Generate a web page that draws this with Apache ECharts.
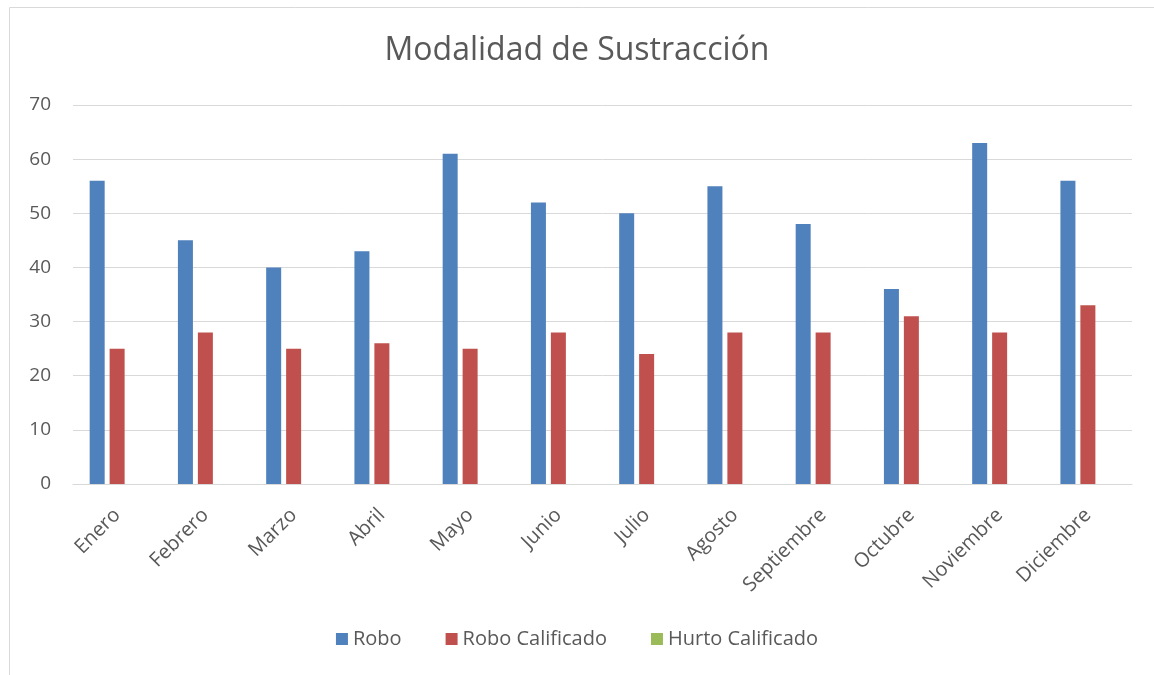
<!DOCTYPE html>
<html>
<head>
<meta charset="utf-8">
<script src="https://cdn.jsdelivr.net/npm/echarts@6/dist/echarts.min.js"></script>
<style>
  html, body { margin: 0; padding: 0; background: #fff; }
  #chart { width: 1154px; height: 675px; }
</style>
</head>
<body>
<div id="chart"></div>
<script>
const meses = ['Enero', 'Febrero', 'Marzo', 'Abril', 'Mayo', 'Junio', 'Julio', 'Agosto', 'Septiembre', 'Octubre', 'Noviembre', 'Diciembre']
const robo = [56, 45, 40, 43, 61, 52, 50, 55, 48, 36, 63, 56]
const roboCalificado = [25, 28, 25, 26, 25, 28, 24, 28, 28, 31, 28, 33]
const hurtoCalificado = [0, 0, 0, 0, 0, 0, 0, 0, 0, 0, 0, 0]

const fuente = 'Open Sans'
const gris = '#595959'

const myChart = echarts.init(document.getElementById('chart'))

const serie = (name, data, color) => ({
  name,
  type: 'bar',
  data,
  barWidth: 15,
  barGap: '33%',
  itemStyle: { color }
})

myChart.setOption({
  animation: false,
  title: {
    text: 'Modalidad de Sustracción',
    left: 'center',
    top: 30,
    textStyle: { color: gris, fontFamily: fuente, fontSize: 32, fontWeight: 'normal' }
  },
  graphic: [{
    type: 'rect',
    shape: { x: 9.5, y: 7.5, width: 1160, height: 700 },
    style: { fill: 'none', stroke: '#d9d9d9', lineWidth: 1 },
    silent: true
  }],
  legend: {
    bottom: 21,
    left: 'center',
    itemGap: 44,
    itemWidth: 12,
    itemHeight: 12,
    icon: 'rect',
    textStyle: { color: gris, fontFamily: fuente, fontSize: 20 },
    data: ['Robo', 'Robo Calificado', 'Hurto Calificado']
  },
  grid: { left: 73, right: 22, top: 105, bottom: 191 },
  xAxis: {
    type: 'category',
    data: meses,
    axisLine: { lineStyle: { color: '#d9d9d9', width: 1 } },
    axisTick: { show: false },
    axisLabel: {
      rotate: 45,
      margin: 28,
      color: gris,
      fontFamily: fuente,
      fontSize: 20
    }
  },
  yAxis: {
    type: 'value',
    min: 0,
    max: 70,
    interval: 10,
    axisLine: { show: false },
    axisTick: { show: false },
    axisLabel: { color: gris, fontFamily: fuente, fontSize: 19, margin: 22 },
    splitLine: { lineStyle: { color: '#d9d9d9', width: 1 } }
  },
  series: [
    serie('Robo', robo, '#4f81bd'),
    serie('Robo Calificado', roboCalificado, '#c0504d'),
    serie('Hurto Calificado', hurtoCalificado, '#9bbb59')
  ]
})
</script>
</body>
</html>
